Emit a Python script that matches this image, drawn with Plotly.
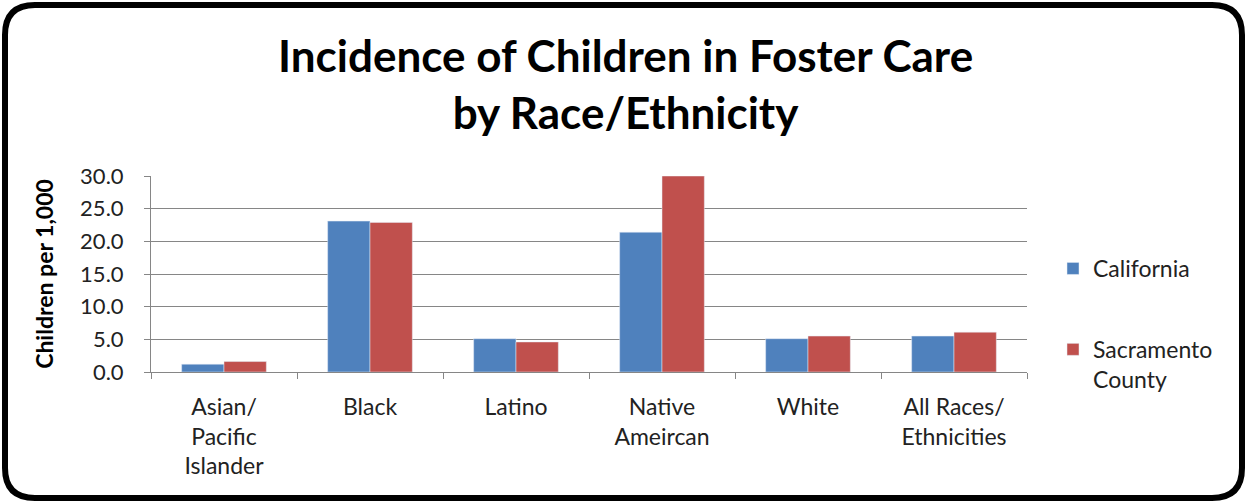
import plotly.graph_objects as go

# Foster care incidence (children per 1,000) by race/ethnicity
categories = [
    "Asian/<br>Pacific<br>Islander",
    "Black",
    "Latino",
    "Native<br>Ameircan",
    "White",
    "All Races/<br>Ethnicities",
]
california = [1.2, 23.1, 5.1, 21.4, 5.1, 5.5]
sacramento = [1.6, 22.9, 4.6, 30.0, 5.5, 6.1]
y_ticks = [0, 5, 10, 15, 20, 25, 30]

W, H = 1249, 503
ML, MR, MT, MB = 151, 222, 176, 131
PW, PH = W - ML - MR, H - MT - MB

FONT = "Lato"
GRID = "#868686"


def px(x):
    return (x - ML) / PW


def py(y):
    return (H - MB - y) / PH


fig = go.Figure()
fig.add_trace(go.Bar(name="California", x=categories, y=california,
                     marker=dict(color="#4F81BD"), legendgroup="a"))
fig.add_trace(go.Bar(name="Sacramento<br>County", x=categories, y=sacramento,
                     marker=dict(color="#C0504D"), legendgroup="b"))

# rounded frame around the whole chart
x0, y0, x1, y1, r = 5, 5, 1242, 498, 30
path = (
    f"M {px(x0 + r)} {py(y0)} L {px(x1 - r)} {py(y0)} "
    f"Q {px(x1)} {py(y0)} {px(x1)} {py(y0 + r)} "
    f"L {px(x1)} {py(y1 - r)} Q {px(x1)} {py(y1)} {px(x1 - r)} {py(y1)} "
    f"L {px(x0 + r)} {py(y1)} Q {px(x0)} {py(y1)} {px(x0)} {py(y1 - r)} "
    f"L {px(x0)} {py(y0 + r)} Q {px(x0)} {py(y0)} {px(x0 + r)} {py(y0)} Z"
)
fig.add_shape(type="path", path=path, xref="paper", yref="paper",
              line=dict(color="black", width=6), layer="above")

# chart title
fig.add_annotation(text="<b>Incidence of Children in Foster Care<br>by Race/Ethnicity</b>",
                   xref="paper", yref="paper", x=px(625), y=py(84),
                   xanchor="center", yanchor="middle", showarrow=False,
                   font=dict(family=FONT, size=44, color="black"))

fig.update_layout(
    width=W, height=H,
    margin=dict(l=ML, r=MR, t=MT, b=MB),
    paper_bgcolor="white", plot_bgcolor="white",
    font=dict(family=FONT, color="black"),
    barmode="group", bargap=0.42, bargroupgap=0,
    showlegend=True,
    legend=dict(x=px(1053), xanchor="left", y=py(247), yanchor="top",
                font=dict(size=23, color="#222"), valign="top",
                tracegroupgap=48, bgcolor="rgba(0,0,0,0)"),
    xaxis=dict(showline=True, linecolor=GRID, linewidth=1,
               ticks="outside", tickson="boundaries", ticklen=6, tickcolor=GRID,
               ticklabelstandoff=14,
               tickfont=dict(size=23, color="#222"), showgrid=False),
    yaxis=dict(range=[0, 30], tickvals=y_ticks,
               ticktext=[f"{v:.1f}" for v in y_ticks],
               showline=True, linecolor=GRID, linewidth=1,
               ticks="outside", ticklen=6, tickcolor=GRID,
               ticklabelstandoff=16,
               showgrid=True, gridcolor=GRID, gridwidth=1,
               tickfont=dict(size=22, color="#222"),
               title=dict(text="<b>Children per 1,000</b>", standoff=20,
                          font=dict(size=23, color="black")),
               zeroline=False),
)

fig.write_html("out.html")
